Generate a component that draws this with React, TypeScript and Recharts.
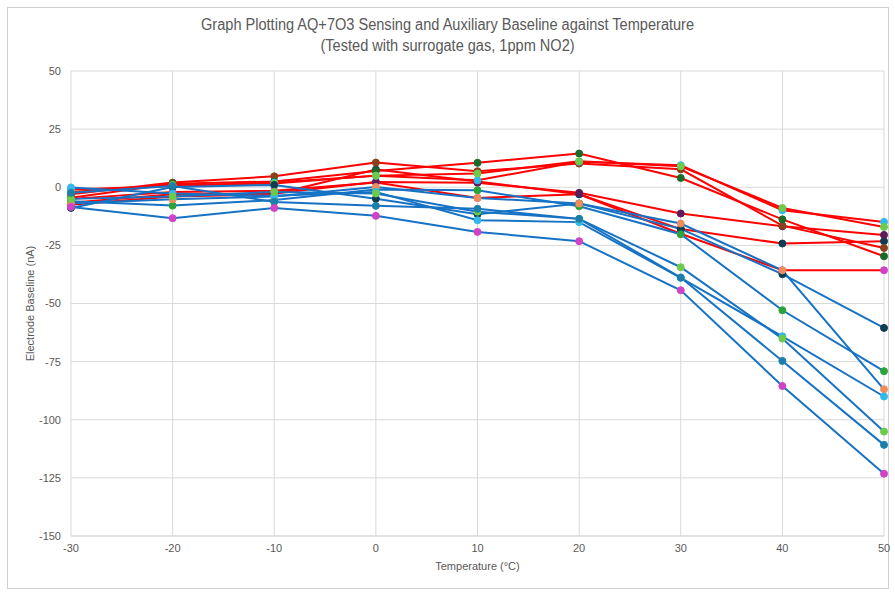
import React from "react";
import { CartesianGrid, Label, Line, LineChart, XAxis, YAxis } from "recharts";

// temperatures (°C)
const temps = [-30, -20, -10, 0, 10, 20, 30, 40, 50];
const xTicks = [-30, -20, -10, 0, 10, 20, 30, 40, 50];
const yTicks = [-150, -125, -100, -75, -50, -25, 0, 25, 50];

// sensing baselines (red lines)
const senseBrown = [-3, 2.0, 4.7, 10.6, 6.9, 10.2, 7.7, -16.5, -26.1];
const senseDarkGreen = [-4.5, 1.5, 2.5, 7, 10.5, 14.5, 4.0, -13.8, -29.7];
const senseLightGreen = [-2, 1, 1.6, 5, 5.9, 11.2, 9, -8.9, -17.1];
const senseCyan = [-1, 0.5, 2, 4.9, 3.0, 11, 9.5, -9.9, -14.9];
const sensePurple = [-6.7, -3, -2.7, 2.3, 1.9, -2.4, -11.3, -16.8, -20.5];
const senseNavy = [-7.5, -4, -3, 7.6, 2.5, -3, -18, -24.2, -23.2];
const senseMagenta = [-5, -2, -1.5, 2, -4.6, -3, -20, -35.7, -35.7];

// auxiliary baselines (blue lines)
const auxNavy = [-8.9, 0.1, 1, -4.9, -11.6, -7.0, -17.9, -37.4, -60.5];
const auxGreen = [-6, -7.9, -5.5, -1, -1.3, -8.2, -20.2, -52.9, -79.1];
const auxOrange = [-7, -5.2, -4, 0.1, -4.6, -7, -15.6, -35.7, -86.9];
const auxCyan = [-0.1, -2.7, -3.7, -2, -14.2, -15, -39, -64.1, -90];
const auxLightGreen = [-5, -4, -2, -2.7, -10.5, -13.6, -34.4, -65.1, -105.1];
const auxTeal = [-2.4, 0.5, -6.3, -8, -9.3, -13.6, -38.8, -74.7, -110.8];
const auxMagenta = [-8.5, -13.3, -8.9, -12.3, -19.2, -23.2, -44.3, -85.5, -123.2];

const RED = "#FF0000";
const BLUE = "#1672C4";

const series = [
  { key: "sMagenta", values: senseMagenta, line: RED, dot: "#D143C6" },
  { key: "sNavy", values: senseNavy, line: RED, dot: "#0E3D52" },
  { key: "sPurple", values: sensePurple, line: RED, dot: "#5E1B5C" },
  { key: "sBrown", values: senseBrown, line: RED, dot: "#8A4119" },
  { key: "sDarkGreen", values: senseDarkGreen, line: RED, dot: "#1A6B2A" },
  { key: "sCyan", values: senseCyan, line: RED, dot: "#33B8EC" },
  { key: "sLightGreen", values: senseLightGreen, line: RED, dot: "#6CCB4A" },
  { key: "aNavy", values: auxNavy, line: BLUE, dot: "#0E3D52" },
  { key: "aGreen", values: auxGreen, line: BLUE, dot: "#2AA43A" },
  { key: "aOrange", values: auxOrange, line: BLUE, dot: "#EF8C5D" },
  { key: "aCyan", values: auxCyan, line: BLUE, dot: "#33B8EC" },
  { key: "aLightGreen", values: auxLightGreen, line: BLUE, dot: "#6CCB4A" },
  { key: "aTeal", values: auxTeal, line: BLUE, dot: "#1B7FA9" },
  { key: "aMagenta", values: auxMagenta, line: BLUE, dot: "#D143C6" },
];

const chartData = temps.map((t, i) => {
  const row: Record<string, number> = { temp: t };
  series.forEach((s) => {
    row[s.key] = s.values[i];
  });
  return row;
});

const FONT = "'Liberation Sans', Arial, sans-serif";
const TEXT = "#595959";

export default function App() {
  return (
    <div
      style={{
        position: "absolute",
        left: 0,
        top: 0,
        width: 895,
        height: 592,
        background: "#fff",
        fontFamily: FONT,
      }}
    >
      <div
        style={{
          position: "absolute",
          left: 7,
          top: 7,
          width: 880,
          height: 580,
          border: "1px solid #D0D0D0",
        }}
      />
      <div
        style={{
          position: "absolute",
          left: 0,
          top: 14,
          width: 895,
          textAlign: "center",
          color: TEXT,
          fontSize: 16,
          lineHeight: "21px",
          transform: "scaleX(0.91)",
          transformOrigin: "448px 0",
        }}
      >
        Graph Plotting AQ+7O3 Sensing and Auxiliary Baseline against Temperature
        <br />
        (Tested with surrogate gas, 1ppm NO2)
      </div>
      <LineChart
        width={895}
        height={592}
        data={chartData}
        margin={{ top: 71, right: 11, bottom: 26, left: 0 }}
        style={{ position: "absolute", left: 0, top: 0 }}
      >
        <CartesianGrid stroke="#D9D9D9" strokeWidth={1} />
        <XAxis
          dataKey="temp"
          type="number"
          domain={[-30, 50]}
          ticks={xTicks}
          axisLine={{ stroke: "#D9D9D9" }}
          tickLine={false}
          tickSize={6}
          height={30}
          tick={{ fill: TEXT, fontSize: 11, fontFamily: FONT }}
        >
          <Label
            value="Temperature (°C)"
            position="insideBottom"
            offset={-4}
            style={{ fill: TEXT, fontSize: 11, fontFamily: FONT }}
          />
        </XAxis>
        <YAxis
          type="number"
          domain={[-150, 50]}
          ticks={yTicks}
          axisLine={false}
          tickLine={false}
          tickSize={8}
          width={71}
          tick={{ fill: TEXT, fontSize: 11, fontFamily: FONT }}
        >
          <Label
            value="Electrode Baseline (nA)"
            angle={-90}
            position="insideLeft"
            offset={30}
            style={{ fill: TEXT, fontSize: 11, fontFamily: FONT, textAnchor: "middle" }}
          />
        </YAxis>
        {series.map((s) => (
          <Line
            key={s.key}
            dataKey={s.key}
            stroke={s.line}
            strokeWidth={2}
            dot={{ r: 3.5, fill: s.dot, stroke: s.dot, strokeWidth: 1 }}
            activeDot={false}
            isAnimationActive={false}
          />
        ))}
      </LineChart>
    </div>
  );
}
